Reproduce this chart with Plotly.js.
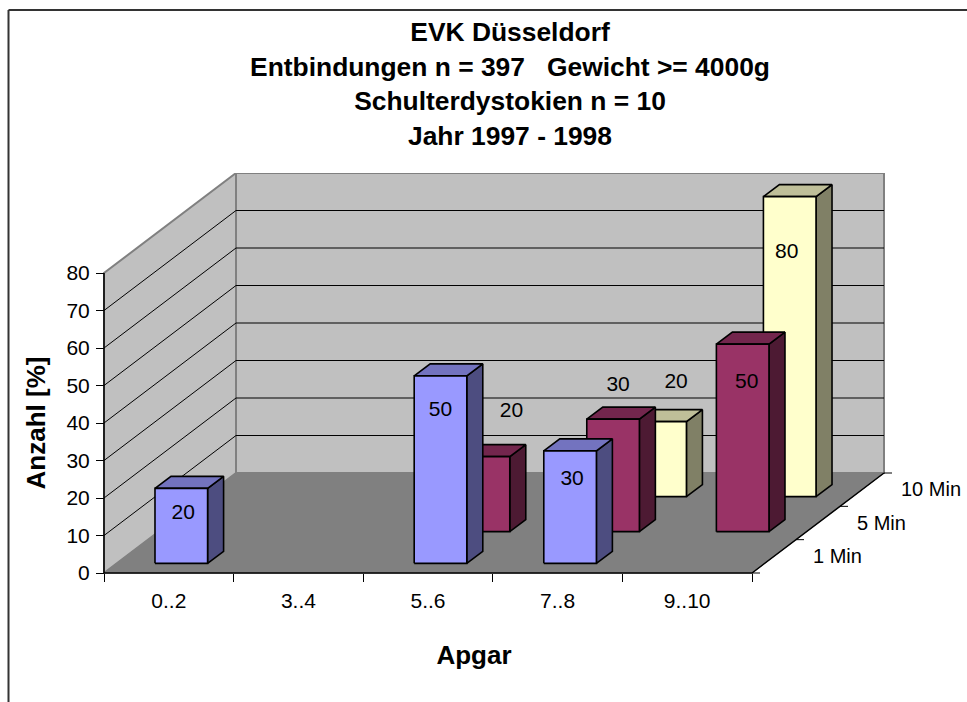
<!DOCTYPE html>
<html>
<head>
<meta charset="utf-8">
<script src="https://cdn.plot.ly/plotly-3.0.1.min.js"></script>
<style>html,body{margin:0;padding:0;background:#fff}#chart{width:967px;height:702px}</style>
</head>
<body>
<div id="chart"></div>
<script>
// ---- data ----
var categories = ['0..2', '3..4', '5..6', '7..8', '9..10'];
var seriesNames = ['1 Min', '5 Min', '10 Min'];
var values1Min = [20, null, 50, 30, null];
var values5Min = [null, null, 20, 30, 50];
var values10Min = [null, null, null, 20, 80];
var yTicks = [0, 10, 20, 30, 40, 50, 60, 70, 80];
var titleLines = ['EVK Düsseldorf', 'Entbindungen n = 397&nbsp;&nbsp;&nbsp;Gewicht &gt;= 4000g', 'Schulterdystokien n = 10', 'Jahr 1997 - 1998'];

// ---- oblique projection of the 3D box onto the two axes ----
var W = 967, H = 702;
var pxPerCat = 129.6, pxPerVal = 3.75;   // front plane scale
var originX = 104, originY = 573;        // pixel of category edge 0, value 0
var depthPxX = 44, depthPxY = 33.33;     // one depth slot
var depthSlots = seriesNames.length;
function px(c, z) { return c + z * depthPxX / pxPerCat; }
function py(v, z) { return v + z * depthPxY / pxPerVal; }

var FONT = '"Liberation Sans", Arial, sans-serif';
var TICK = 21, DEPTH_TICK = 20, AXIS_TITLE = 26;

var traces = [];
function poly(xs, ys, fill, lineColor, lineWidth) {
  traces.push({type: 'scatter', mode: 'lines', x: xs, y: ys, fill: fill ? 'toself' : 'none',
    fillcolor: fill || undefined, line: {color: lineColor, width: lineWidth, simplify: false},
    hoverinfo: 'skip', showlegend: false});
}

// walls and floor
var D = depthSlots, C = categories.length, T = yTicks[yTicks.length - 1];
poly([px(0,0), px(0,D), px(0,D), px(0,0), px(0,0)], [py(0,0), py(0,D), py(T,D), py(T,0), py(0,0)], '#C0C0C0', '#808080', 2);
poly([px(0,D), px(C,D), px(C,D), px(0,D), px(0,D)], [py(0,D), py(0,D), py(T,D), py(T,D), py(0,D)], '#C0C0C0', '#808080', 2);
poly([px(0,0), px(C,0), px(C,D), px(0,D), px(0,0)], [py(0,0), py(0,0), py(0,D), py(0,D), py(0,0)], '#808080', '#808080', 1);

// gridlines on both walls
var gx = [], gy = [];
yTicks.slice(1).forEach(function (v, i) {
  if (i < yTicks.length - 2) {
    gx.push(px(0,0), px(0,D), px(C,D), null);
    gy.push(py(v,0), py(v,D), py(v,D), null);
  }
});
poly(gx, gy, null, '#000000', 1);

// floor edges and depth ticks
poly([px(0,0), px(C,0), px(C,D)], [py(0,0), py(0,0), py(0,D)], null, '#000000', 1.5);
var tickLen = 8 / pxPerCat, zx = [], zy = [];
for (var k = 0; k <= D; k++) { zx.push(px(C,k), px(C,k) + tickLen, null); zy.push(py(0,k), py(0,k), null); }
poly(zx, zy, null, '#000000', 1);
// value axis line
poly([0, 0], [0, T], null, '#000000', 1.5);

// bars: back series first
var barValues = [values1Min, values5Min, values10Min];
var faceColors = [
  {front: '#9999FF', top: '#7373BF', side: '#4D4D80'},
  {front: '#993366', top: '#73264D', side: '#4D1A33'},
  {front: '#FFFFCC', top: '#BFBF99', side: '#808066'}
];
var barDepthX = [0.318, 1.295, 2.364], barDepthY = [0.29, 1.24, 2.29];
var barGap = 37 / pxPerCat, barW = 52.6 / pxPerCat, sideX = 16 / pxPerCat, sideY = 12 / pxPerVal;
function barOrigin(s, c) {
  return {x: c + barGap + barDepthX[s] * depthPxX / pxPerCat, y: barDepthY[s] * depthPxY / pxPerVal};
}
for (var s = depthSlots - 1; s >= 0; s--) {
  var fx = [], fy = [], tx = [], ty = [], sx = [], sy = [];
  barValues[s].forEach(function (v, c) {
    if (v === null) return;
    var o = barOrigin(s, c), l = o.x, r = o.x + barW, b = o.y, t = o.y + v;
    fx.push(l, r, r, l, l, null);                 fy.push(b, b, t, t, b, null);
    tx.push(l, r, r + sideX, l + sideX, l, null); ty.push(t, t, t + sideY, t + sideY, t, null);
    sx.push(r, r + sideX, r + sideX, r, r, null); sy.push(b, b + sideY, t + sideY, t, b, null);
  });
  poly(sx, sy, faceColors[s].side, '#000000', 1.6);
  poly(tx, ty, faceColors[s].top, '#000000', 1.6);
  poly(fx, fy, faceColors[s].front, '#000000', 1.6);
}

// data labels: offsets in px from the top-centre of each bar's front face
var labelOffsets = {
  '0,0': [2, 25], '0,2': [0, 35], '0,3': [2, 29],
  '1,2': [28, -45], '1,3': [5, -33], '1,4': [4, 39],
  '2,3': [16, -39], '2,4': [-3, 56]
};
var lx = [], ly = [], lt = [];
barValues.forEach(function (vals, s) {
  vals.forEach(function (v, c) {
    if (v === null) return;
    var o = barOrigin(s, c), off = labelOffsets[s + ',' + c];
    lx.push(o.x + barW / 2 + off[0] / pxPerCat);
    ly.push(o.y + v - off[1] / pxPerVal);
    lt.push(String(v));
  });
});
traces.push({type: 'scatter', mode: 'text', x: lx, y: ly, text: lt, textposition: 'middle center',
  textfont: {family: FONT, size: TICK, color: '#000'}, cliponaxis: false, hoverinfo: 'skip', showlegend: false});

// depth axis labels
var dx = [], dy = [];
seriesNames.forEach(function (n, i) {
  dx.push(px(C, i + 0.5) + 39 / pxPerCat);
  dy.push(py(0, i + 0.5) - 1.5 / pxPerVal);
});
traces.push({type: 'scatter', mode: 'text', x: dx, y: dy, text: seriesNames, textposition: 'middle right',
  textfont: {family: FONT, size: DEPTH_TICK, color: '#000'}, cliponaxis: false, hoverinfo: 'skip', showlegend: false});

// ---- layout: pixel windows chosen so axis titles centre where they should ----
var domL = 43, domR = 905, domT = 173, domB = 673;
var catEdges = categories.map(function (c, i) { return i; }).concat([categories.length]);
var catCentres = categories.map(function (c, i) { return i + 0.5; });
var layout = {
  width: W, height: H, paper_bgcolor: '#fff', plot_bgcolor: 'rgba(0,0,0,0)',
  margin: {l: 0, r: 0, t: 0, b: 0}, showlegend: false,
  font: {family: FONT, color: '#000'},
  title: {
    text: titleLines.map(function (t) { return '<span style="font-size:26.4px">' + t + '</span>'; }).join('<br>'),
    font: {family: FONT, size: 26.7, color: '#000', weight: 'bold'},
    x: 510 / W, xanchor: 'center', xref: 'paper', y: 1 - 41 / H, yanchor: 'top', yref: 'container'
  },
  xaxis: {
    domain: [domL / W, domR / W],
    range: [(domL - originX) / pxPerCat, (domR - originX) / pxPerCat],
    anchor: 'free', position: (H - originY) / H,
    tickmode: 'array', tickvals: catCentres, ticktext: categories,
    ticks: 'outside', ticklen: 0, ticklabelstandoff: 9, showgrid: false, zeroline: false, showline: false,
    tickfont: {family: FONT, size: TICK, color: '#000'},
    minor: {tickmode: 'array', tickvals: catEdges, ticks: 'outside', ticklen: 8, tickcolor: '#000', tickwidth: 1, showgrid: false},
    title: {text: '<b>Apgar</b>', font: {family: FONT, size: AXIS_TITLE, color: '#000'}, standoff: 34},
    fixedrange: true
  },
  yaxis: {
    domain: [(H - domB) / H, (H - domT) / H],
    range: [(originY - domB) / pxPerVal, (originY - domT) / pxPerVal],
    anchor: 'free', position: (originX) / W,
    tickmode: 'array', tickvals: yTicks,
    ticks: 'outside', ticklen: 8, ticklabelstandoff: 2, tickcolor: '#000', tickwidth: 1,
    showgrid: false, zeroline: false, showline: false,
    tickfont: {family: FONT, size: TICK, color: '#000'},
    title: {text: '<b>Anzahl [%]</b>', font: {family: FONT, size: AXIS_TITLE, color: '#000'}, standoff: 12},
    fixedrange: true
  },
  shapes: [
    {type: 'line', xref: 'paper', yref: 'paper', x0: 8.5 / W, x1: 1, y0: 1 - 10 / H, y1: 1 - 10 / H, line: {color: '#333', width: 2}},
    {type: 'line', xref: 'paper', yref: 'paper', x0: 8.5 / W, x1: 8.5 / W, y0: 0, y1: 1 - 10 / H, line: {color: '#333', width: 2}}
  ]
};
Plotly.newPlot('chart', traces, layout, {displayModeBar: false, staticPlot: true});
</script>
</body>
</html>
